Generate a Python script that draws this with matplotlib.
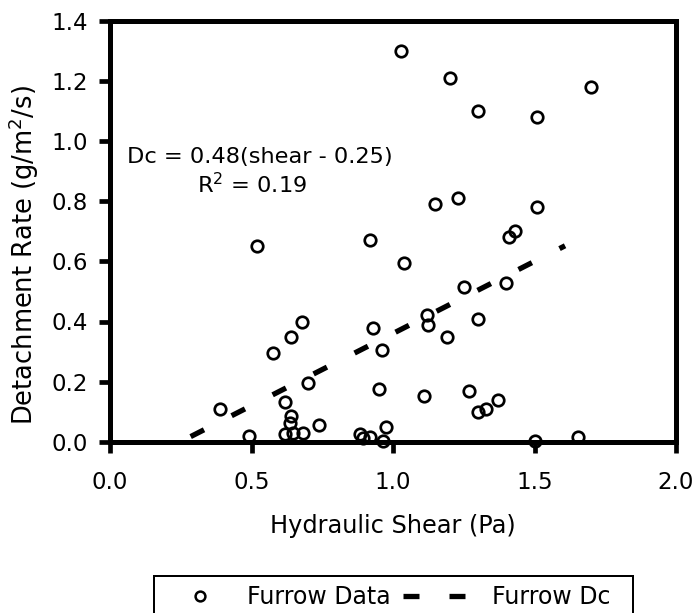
import matplotlib
matplotlib.use("Agg")
import matplotlib.pyplot as plt
from matplotlib.ticker import FormatStrFormatter
from matplotlib.lines import Line2D
from matplotlib.patches import Rectangle
from matplotlib.legend_handler import HandlerLine2D

# ---- data ----
shear = [1.03, 1.20, 1.70, 1.30, 1.51, 1.23, 1.15, 1.51, 1.43, 1.41,
         0.52, 0.92, 1.04, 1.25, 1.40, 1.12, 1.125, 1.30, 0.68, 0.64,
         0.93, 1.19, 0.575, 0.96, 0.70, 0.95, 1.11, 1.27, 1.37, 1.33,
         1.30, 0.62, 0.39, 0.64, 0.635, 0.74, 0.975, 0.49, 0.62, 0.645,
         0.683, 0.883, 0.895, 0.919, 0.966, 1.50, 1.655]
rate = [1.30, 1.21, 1.18, 1.10, 1.08, 0.81, 0.79, 0.78, 0.70, 0.68,
        0.65, 0.67, 0.595, 0.515, 0.527, 0.42, 0.388, 0.408, 0.40, 0.35,
        0.38, 0.35, 0.295, 0.306, 0.196, 0.176, 0.152, 0.17, 0.14, 0.11,
        0.098, 0.132, 0.109, 0.085, 0.062, 0.055, 0.048, 0.018, 0.024, 0.03,
        0.028, 0.024, 0.011, 0.015, 0.003, 0.002, 0.014]
fit_x = [0.285, 1.608]
fit_y = [0.017, 0.652]

xticks = [0.0, 0.5, 1.0, 1.5, 2.0]
yticks = [0.0, 0.2, 0.4, 0.6, 0.8, 1.0, 1.2, 1.4]
legend_labels = ['Furrow Data', 'Furrow Dc']

W, H = 695, 613
plt.rcParams['font.family'] = ['DejaVu Sans']
plt.rcParams['lines.scale_dashes'] = False

fig = plt.figure(figsize=(W / 100, H / 100), dpi=100)
ax_left, ax_right, ax_top, ax_bottom = 110, 676, 21, 441.7
ax = fig.add_axes([ax_left / W, 1 - ax_bottom / H,
                   (ax_right - ax_left) / W, (ax_bottom - ax_top) / H])

px = 0.72  # points per pixel
dash = (0, (15 * px, 31 * px))

ax.plot(fit_x, fit_y, color='black', lw=5.3 * px, linestyle=dash,
        dash_capstyle='butt', zorder=2)
ax.plot(shear, rate, linestyle='none', marker='o', markersize=11.5 * px,
        markerfacecolor='none', markeredgecolor='black',
        markeredgewidth=2.7 * px, clip_on=False, zorder=3)

ax.set_xlim(0, 2.0)
ax.set_ylim(0, 1.4)
ax.set_xticks(xticks)
ax.set_yticks(yticks)
ax.xaxis.set_major_formatter(FormatStrFormatter('%.1f'))
ax.yaxis.set_major_formatter(FormatStrFormatter('%.1f'))
for s in ax.spines.values():
    s.set_linewidth(5 * px)
    s.set_zorder(2.5)
ax.tick_params(axis='both', direction='out', length=11 * px,
               width=4.7 * px, labelsize=16.5, colors='black')
ax.tick_params(axis='x', pad=13.5)
ax.tick_params(axis='y', pad=8)

# axis labels
fig.text(33.3 / W, 1 - 255 / H, 'Detachment Rate (g/m$^2$/s)', rotation=90,
         rotation_mode='anchor', ha='center', va='baseline', fontsize=18.5)
fig.text(393 / W, 1 - 533 / H, 'Hydraulic Shear (Pa)', ha='center',
         va='baseline', fontsize=17.3)

# annotation
fig.text(127 / W, 1 - 162.7 / H, 'Dc = 0.48(shear - 0.25)', ha='left',
         va='baseline', fontsize=16.2)
fig.text(197 / W, 1 - 193 / H, 'R$^2$ = 0.19', ha='left',
         va='baseline', fontsize=16.2)


# legend
class ShiftedHandler(HandlerLine2D):
    def __init__(self, shift, **kw):
        super().__init__(**kw)
        self.shift = shift

    def create_artists(self, legend, orig_handle, xdescent, ydescent,
                       width, height, fontsize, trans):
        return super().create_artists(legend, orig_handle,
                                      xdescent - self.shift, ydescent,
                                      width, height, fontsize, trans)


leg_fs = 17
em = leg_fs / px  # pixels per em
h1 = Line2D([], [], linestyle='none', marker='o', markersize=9.8 * px,
            markerfacecolor='none', markeredgecolor='black',
            markeredgewidth=2.5 * px)
h2 = Line2D([], [], color='black', lw=5.3 * px,
            linestyle=(0, (16 * px, 30 * px)), dash_capstyle='butt')
leg = fig.legend([h1, h2], legend_labels, ncol=2,
                 loc='center left',
                 bbox_to_anchor=(158 / W, 1 - 597 / H),
                 borderaxespad=0, borderpad=0, fontsize=leg_fs,
                 handlelength=62 / em, handletextpad=27 / em,
                 columnspacing=12.5 / em, frameon=False,
                 handler_map={h1: ShiftedHandler(11 * px)})

leg_top = 575.5
frame = Rectangle((154 / W, -0.05), (633 - 154) / W, 1 - leg_top / H + 0.05,
                  transform=fig.transFigure, fill=False, edgecolor='black',
                  linewidth=2 * px)
fig.add_artist(frame)

fig.savefig('out.png', dpi=100)
